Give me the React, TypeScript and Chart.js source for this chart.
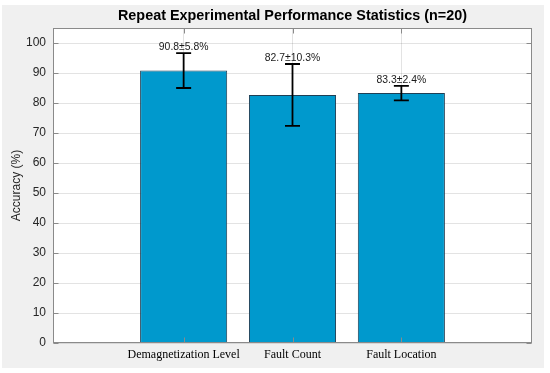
import React, { useEffect, useRef } from 'react';
import { Chart, registerables } from 'chart.js';

Chart.register(...registerables);

const chartTitle = 'Repeat Experimental Performance Statistics (n=20)';
const yAxisTitle = 'Accuracy (%)';
const categories = ['Demagnetization Level', 'Fault Count', 'Fault Location'];
const positions = [1, 2, 3];
const means = [90.8, 82.7, 83.3];
const stds = [5.8, 10.3, 2.4];
const yTicks = [0, 10, 20, 30, 40, 50, 60, 70, 80, 90, 100];

const BAR_COLOR = 'rgb(0,153,205)';
const BOX_COLOR = '#8a8a8a';

const decorPlugin = {
  id: 'decor',
  beforeDraw(chart: any) {
    const { ctx, chartArea: a, width, height } = chart;
    ctx.save();
    ctx.fillStyle = '#ffffff';
    ctx.fillRect(0, 0, width, height);
    ctx.fillStyle = '#f0f0f0';
    ctx.fillRect(2, 5, 542, 363);
    ctx.fillStyle = '#ffffff';
    ctx.fillRect(a.left, a.top, a.right - a.left, a.bottom - a.top);
    ctx.restore();
  },
  afterDatasetsDraw(chart: any) {
    const { ctx, chartArea: a, scales } = chart;
    const xs = scales.x;
    const ys = scales.y;
    ctx.save();
    // error bars
    ctx.strokeStyle = '#000000';
    ctx.lineWidth = 1.8;
    for (let i = 0; i < positions.length; i++) {
      const px = xs.getPixelForValue(positions[i]);
      const top = ys.getPixelForValue(means[i] + stds[i]);
      const bot = ys.getPixelForValue(means[i] - stds[i]);
      ctx.beginPath();
      ctx.moveTo(px, top);
      ctx.lineTo(px, bot);
      ctx.moveTo(px - 7.5, top);
      ctx.lineTo(px + 7.5, top);
      ctx.moveTo(px - 7.5, bot);
      ctx.lineTo(px + 7.5, bot);
      ctx.stroke();
      ctx.fillStyle = '#1a1a1a';
      ctx.font = '10.4px "Liberation Sans", Arial, sans-serif';
      ctx.textAlign = 'center';
      ctx.textBaseline = 'bottom';
      ctx.fillText(`${means[i].toFixed(1)}±${stds[i].toFixed(1)}%`, px, top - 1);
    }
    // axes box
    ctx.strokeStyle = BOX_COLOR;
    ctx.lineWidth = 1;
    const L = Math.round(a.left) + 0.5;
    const R = Math.round(a.right) - 0.5;
    const T = Math.round(a.top) + 0.5;
    const B = Math.round(a.bottom) - 0.5;
    ctx.strokeRect(L, T, R - L, B - T);
    // inward ticks
    ctx.beginPath();
    for (const v of yTicks) {
      const py = Math.round(ys.getPixelForValue(v)) + 0.5;
      ctx.moveTo(L, py);
      ctx.lineTo(L + 5, py);
      ctx.moveTo(R, py);
      ctx.lineTo(R - 5, py);
    }
    for (const p of positions) {
      const px = Math.round(xs.getPixelForValue(p)) + 0.5;
      ctx.moveTo(px, B);
      ctx.lineTo(px, B - 5);
      ctx.moveTo(px, T);
      ctx.lineTo(px, T + 5);
    }
    ctx.stroke();
    // title
    ctx.fillStyle = '#000000';
    ctx.font = 'bold 14.4px "Liberation Sans", Arial, sans-serif';
    ctx.textAlign = 'center';
    ctx.textBaseline = 'middle';
    ctx.fillText(chartTitle, (a.left + a.right) / 2, 16);
    // y axis title
    ctx.fillStyle = '#262626';
    ctx.font = '12px "Liberation Sans", Arial, sans-serif';
    ctx.translate(17, (a.top + a.bottom) / 2);
    ctx.rotate(-Math.PI / 2);
    ctx.fillText(yAxisTitle, 0, 0);
    ctx.restore();
  },
};

export default function App() {
  const ref = useRef<HTMLCanvasElement | null>(null);
  useEffect(() => {
    document.body.style.margin = '0';
    const canvas = ref.current!;
    const chart = new Chart(canvas, {
      type: 'bar',
      data: {
        datasets: [
          {
            data: positions.map((x, i) => ({ x, y: means[i] })),
            backgroundColor: BAR_COLOR,
            borderColor: '#1f3f55',
            borderWidth: 1,
            barPercentage: 0.8,
            categoryPercentage: 1,
          } as any,
        ],
      },
      options: {
        responsive: false,
        animation: false,
        devicePixelRatio: 1,
        layout: { padding: { left: 0, top: 28, right: 18, bottom: 0 } },
        plugins: {
          legend: { display: false },
          title: { display: false },
          tooltip: { enabled: false },
        },
        scales: {
          x: {
            type: 'linear',
            offset: false,
            min: -0.2,
            max: 4.2,
            afterBuildTicks: (s: any) => {
              s.ticks = positions.map((v) => ({ value: v }));
            },
            afterFit: (s: any) => {
              s.height = 30;
            },
            grid: { color: 'rgba(38,38,38,0.13)', drawTicks: false, offset: false },
            border: { display: false },
            ticks: {
              padding: 5,
              maxRotation: 0,
              autoSkip: false,
              color: '#000000',
              font: { family: '"Liberation Serif", "Times New Roman", serif', size: 12 },
              callback: (v: any) => {
                const i = positions.indexOf(Number(v));
                return i >= 0 ? categories[i] : '';
              },
            },
          },
          y: {
            type: 'linear',
            min: 0,
            max: 105,
            afterBuildTicks: (s: any) => {
              s.ticks = yTicks.map((v) => ({ value: v }));
            },
            afterFit: (s: any) => {
              s.width = 53;
            },
            grid: { color: 'rgba(38,38,38,0.13)', drawTicks: false },
            border: { display: false },
            ticks: {
              padding: 7,
              color: '#262626',
              font: { family: '"Liberation Sans", Arial, sans-serif', size: 12 },
            },
          },
        },
      } as any,
      plugins: [decorPlugin],
    });
    return () => chart.destroy();
  }, []);
  return <canvas ref={ref} width={550} height={373} style={{ display: 'block' }} />;
}
